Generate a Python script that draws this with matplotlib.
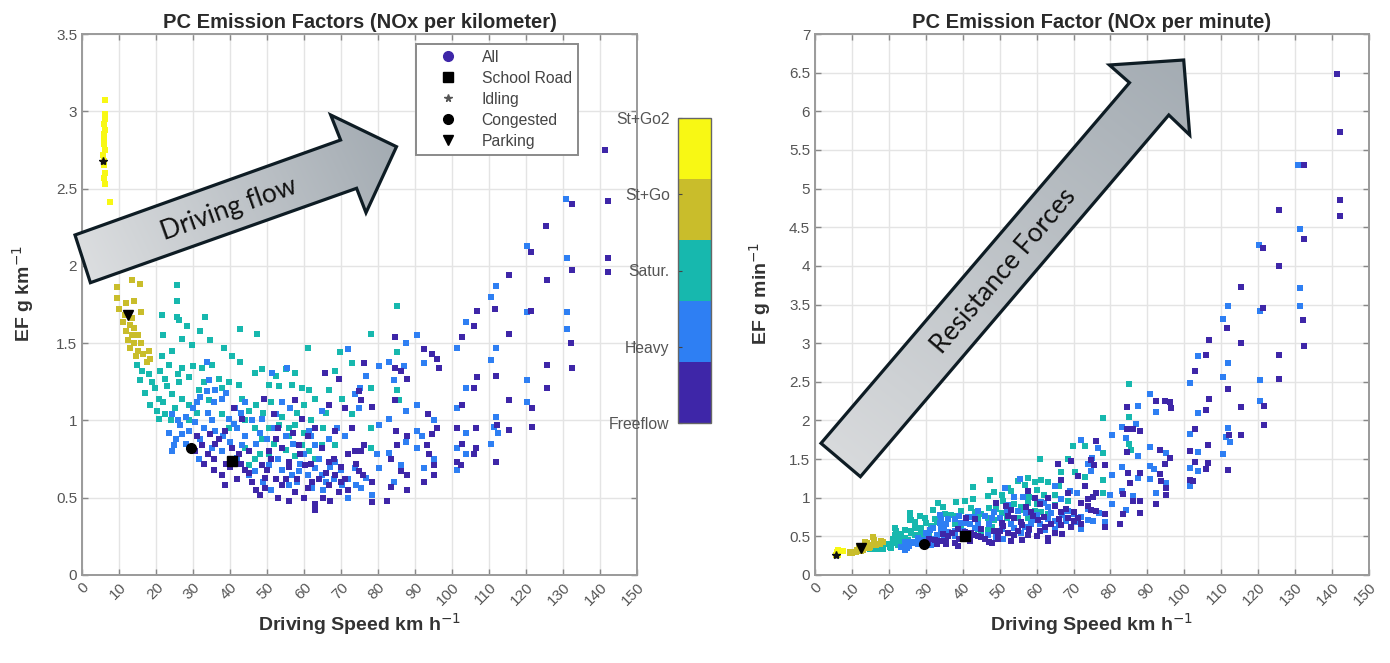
import numpy as np
import matplotlib
matplotlib.use("Agg")
import matplotlib.pyplot as plt
from matplotlib.colors import ListedColormap, Normalize, to_rgb
from matplotlib.cm import ScalarMappable
from matplotlib.lines import Line2D
from matplotlib.patches import Polygon

plt.rcParams['font.family'] = ['Liberation Sans', 'DejaVu Sans']

# ---------------- data (speed km/h, EF g/km) ----------------
stgo2_x = [6.2, 6.3, 6.2, 6.0, 6.1, 6.0, 5.9, 6.0, 6.1, 5.8, 5.9, 6.0, 6.1, 6.0, 6.2, 7.6]
stgo2_y = [3.07, 2.98, 2.95, 2.92, 2.88, 2.85, 2.82, 2.79, 2.75, 2.72, 2.68, 2.65, 2.60, 2.57, 2.53, 2.41]

stgo_x = [13.5, 15.8, 9.5, 9.5, 14, 12, 10, 16, 11.5, 13.5, 11, 13, 14, 12, 13.5, 15, 12.5, 14, 16, 13, 15, 18,
          18.5, 14.5, 17.5, 16.5]
stgo_y = [1.91, 1.88, 1.86, 1.79, 1.77, 1.76, 1.72, 1.70, 1.68, 1.66, 1.64, 1.62, 1.60, 1.58, 1.55, 1.55, 1.52,
          1.50, 1.50, 1.47, 1.45, 1.45, 1.40, 1.42, 1.38, 1.43]

satur_x = [25.7, 25.7, 21.6, 25.7, 33.3, 85, 26.1, 28.4, 32, 42.8, 47.3, 22, 27, 29.7, 34.7, 38.3, 40.5, 42.8, 61,
           69.8, 73, 14.9, 16.2, 15.8, 21.6, 24.3, 23.4, 27, 28.8, 22.5, 26.1, 19.8, 20.7, 24.3, 27, 28.8, 20.3,
           22.5, 20.7, 25.2, 31.5, 32.4, 35.1, 36.9, 34.2, 37.8, 39.6, 42.3, 43.2, 46.8, 48.6, 50.5, 52.3, 53.2,
           55, 56.8, 57.7, 59.5, 61.3, 63, 66.7, 68.5, 70.3, 73, 37.8, 39.6, 45, 46.8, 48.6, 50.5, 53.2, 55.9,
           57.7, 59.5, 61.3, 63, 64.9, 68.5, 45, 46.8, 55, 57.7, 50.5, 78, 85, 78, 85, 85.6, 78, 78,
           18, 19, 17, 23, 26, 30, 21, 18.5, 29, 31, 33, 24, 22,
           44, 47, 49, 51, 54, 56, 58, 60, 62, 65, 52, 48, 44, 60, 66]
satur_y = [1.875, 1.77, 1.68, 1.67, 1.67, 1.74, 1.65, 1.61, 1.58, 1.59, 1.56, 1.55, 1.53, 1.49, 1.52, 1.47, 1.42,
           1.38, 1.47, 1.44, 1.37, 1.36, 1.32, 1.26, 1.42, 1.45, 1.36, 1.34, 1.28, 1.27, 1.25, 1.21, 1.14, 1.17,
           1.14, 1.10, 1.06, 1.04, 1.01, 1.08, 1.20, 1.34, 1.36, 1.27, 1.13, 1.21, 1.25, 1.23, 1.14, 1.31, 1.33,
           1.23, 1.29, 1.22, 1.33, 1.23, 1.31, 1.21, 1.20, 1.14, 1.20, 1.32, 1.14, 1.04, 1.04, 0.95, 1.06, 0.95,
           0.88, 0.95, 0.97, 0.95, 0.97, 0.84, 0.80, 0.75, 0.84, 0.84, 0.71, 0.75, 0.81, 0.77, 0.78, 1.56, 1.44,
           1.21, 1.20, 1.13, 0.95, 0.82,
           1.30, 1.25, 1.18, 1.22, 1.30, 1.35, 1.32, 1.10, 1.00, 1.05, 1.25, 1.00, 1.12,
           1.00, 1.10, 1.05, 1.12, 1.02, 0.90, 1.05, 0.92, 1.00, 0.95, 0.85, 0.78, 0.82, 1.10, 1.05]

heavy_x = [33.8, 34.2, 33.8, 35.6, 31.1, 24.3, 26.6, 23.4, 24.8, 24.3, 27, 31.5, 30.6, 37.8, 39.6, 41.9, 43.2, 36,
           37.8, 45, 46.8, 50.5, 52.3, 54, 55.9, 57.7, 62.2, 63, 64.9, 68.5, 70.3, 72, 54, 56.3, 52.3, 51.4, 55.4,
           64.9, 72, 73.9, 74.8, 48.6, 44.1, 41.4, 61.3, 66.7, 63, 73.9, 58.6, 56.8,
           103.7, 131.2, 87.5, 90.6, 101.4, 111.8, 110.5, 92.4, 80.3, 83, 87, 76.7, 84.3, 120.4, 103.7, 75.1,
           120.4, 101.4, 90.6, 87.5, 83, 95.1, 111.8, 80.3, 111.4, 112.3, 103.7, 110.5, 101.4, 103.7, 90.6, 91.8,
           90.6, 95.1, 92.4, 87.5, 83, 80.3, 84.3, 75.3, 78.5, 101.4, 76.8, 79.8, 86.1,
           130.9, 120.2, 131.2, 111.8, 110.6, 120.4, 131.2,
           29, 32, 35, 38, 40, 42, 44, 47, 49, 51, 53, 58, 60, 62, 66, 67, 69, 71, 25.5, 28,
           26, 28, 30, 32, 34, 36, 39, 41, 43, 46, 48, 50, 52, 55, 57, 59, 61, 64, 65, 68, 70, 72, 74, 35, 33]
heavy_y = [1.38, 1.26, 1.19, 1.12, 1.12, 1.04, 0.97, 0.92, 0.84, 0.80, 0.91, 0.75, 0.99, 1.14, 1.01, 0.95, 0.84,
           0.93, 0.80, 0.65, 0.67, 0.71, 0.62, 0.68, 0.58, 0.54, 0.56, 0.69, 0.65, 0.73, 0.58, 0.50, 1.12, 1.08,
           1.04, 1.31, 1.34, 1.06, 1.46, 1.17, 1.08, 1.01, 1.12, 1.08, 0.93, 0.88, 0.84, 0.69, 0.67, 0.65,
           1.64, 1.59, 1.50, 1.55, 1.47, 1.47, 1.39, 1.37, 1.35, 1.38, 1.35, 1.29, 1.26, 1.26, 1.21, 1.21, 1.12,
           1.08, 1.10, 1.06, 1.01, 1.00, 1.02, 0.97, 0.96, 0.92, 0.92, 0.85, 0.82, 0.78, 0.93, 0.90, 0.82, 0.75,
           0.69, 0.86, 0.79, 0.69, 0.60, 0.56, 0.52, 0.68, 0.63, 0.78, 0.71,
           2.43, 2.13, 2.05, 1.87, 1.80, 1.70, 1.70,
           0.93, 0.88, 1.00, 0.90, 0.86, 0.76, 0.90, 0.85, 0.60, 0.55, 0.75, 0.60, 0.78, 0.90, 0.60, 0.70, 0.95,
           0.90, 0.88, 0.85,
           1.00, 1.02, 1.08, 1.15, 1.05, 1.20, 1.18, 0.98, 1.05, 1.00, 0.92, 0.88, 0.95, 0.90, 0.85, 0.72, 0.65,
           0.75, 0.55, 0.62, 0.68, 0.62, 0.58, 0.82, 0.95]

free_x = [41, 43.2, 38.7, 34.7, 32.4, 30.6, 35.6, 35.6, 37.8, 38.7, 40.5, 42.3, 49.1, 51.8, 57.7, 52.3, 50.5, 48.6,
          49.5, 49.5, 52.3, 54, 55.9, 58.6, 59.5, 63, 64.9, 66.7, 68.5, 63, 63, 62.2, 66.7, 69.4, 71.2, 65.8, 69.4,
          66.7, 71.2, 74.8, 73, 73.9, 74.8, 68.5, 60.4, 55, 57.7,
          106, 115.4, 84.5, 132.1, 102.8, 92.4, 94.7, 96, 96.5, 125.6, 132.5, 76.2, 84.5, 86.1, 87.9, 106.7, 111.8,
          125.6, 105.9, 75.5, 78.5, 84.5, 102.8, 115.4, 121.7, 93.5, 96, 94.7, 101.4, 106.4, 112.1, 115.4, 121.7,
          102.8, 106.4, 105.9, 101.4, 102.3, 111.8, 84.8, 87.9, 85.2, 76.2, 75.3, 83.4, 86.1, 87.9, 95.1, 95.1,
          92.4, 93.3, 93.8, 78.5, 82.5, 78.5, 87.9, 83.4,
          141.3, 142.2, 132.5, 125.5, 121.4, 115.4, 125.6, 132.3, 142.2, 142.2, 106.8, 111.6, 121.4,
          33, 36, 39, 44, 46, 47, 53, 56, 60, 61, 65, 67, 70, 72, 31, 45,
          34, 37, 40, 42, 43, 45, 48, 50, 51, 54, 56, 58, 59, 61, 62, 64, 66, 68, 70, 72, 74, 76, 57, 53]
free_y = [1.08, 1.01, 0.93, 0.91, 0.84, 0.80, 0.75, 0.68, 0.65, 0.58, 0.82, 0.78, 1.14, 1.04, 1.13, 0.88, 0.80,
          0.71, 0.63, 0.56, 0.62, 0.82, 0.73, 0.84, 1.01, 0.95, 0.82, 0.73, 0.65, 0.46, 0.42, 0.60, 0.58, 0.54,
          0.62, 1.31, 1.27, 1.10, 1.08, 1.19, 0.95, 0.80, 0.67, 0.93, 0.71, 0.62, 0.54,
          1.61, 1.56, 1.54, 1.50, 1.54, 1.46, 1.43, 1.40, 1.34, 1.36, 1.34, 1.37, 1.34, 1.32, 1.27, 1.28, 1.29,
          1.21, 1.21, 1.13, 1.09, 1.13, 1.10, 1.13, 1.08, 1.04, 0.95, 0.91, 0.95, 0.95, 0.97, 0.94, 0.96, 0.85,
          0.82, 0.78, 0.73, 0.71, 0.73, 0.93, 0.90, 0.84, 0.84, 0.80, 0.75, 0.67, 0.65, 0.71, 0.65, 0.60, 0.84,
          0.78, 0.60, 0.48, 0.47, 0.55, 0.57,
          2.75, 2.42, 2.40, 2.26, 2.09, 1.94, 1.91, 1.97, 2.05, 1.96, 1.71, 1.72, 1.71,
          0.72, 0.85, 0.72, 0.68, 0.60, 0.55, 0.50, 0.48, 0.50, 0.56, 0.50, 0.48, 0.70, 0.78, 0.90, 0.80,
          0.78, 0.88, 0.70, 0.62, 0.72, 0.66, 0.52, 0.68, 0.75, 0.58, 0.70, 0.62, 0.78, 0.90, 0.72, 0.62, 0.66,
          0.75, 0.60, 0.55, 0.72, 0.65, 0.92, 0.95]

# special cases (speed, EF g/km)
idling_pt = (5.8, 2.68)
parking_pt = (12.4, 1.68)
congested_pt = (29.5, 0.82)
school_pt = (40.5, 0.74)

class_labels = ['Freeflow', 'Heavy', 'Satur.', 'St+Go', 'St+Go2']
class_colors = ['#3e26a8', '#2e7ff3', '#17b8ae', '#c9bd2b', '#f8f814']
legend_labels = ['All', 'School Road', 'Idling', 'Congested', 'Parking']

series = [(satur_x, satur_y, 2), (heavy_x, heavy_y, 1), (free_x, free_y, 0),
          (stgo_x, stgo_y, 3), (stgo2_x, stgo2_y, 4)]

# ---------------- figure ----------------
fig = plt.figure(figsize=(13.9, 6.63), dpi=100)
axL = fig.add_axes([82/1390, 88/663, 555/1390, 541/663])
axR = fig.add_axes([815/1390, 88/663, 554/1390, 541/663])

tick_col = '#555555'
lab_col = '#333333'
def style(ax, ymax, yticks):
    ax.set_xlim(0, 150)
    ax.set_ylim(0, ymax)
    ax.set_xticks(np.arange(0, 151, 10))
    ax.set_yticks(yticks)
    ax.set_yticklabels([('%g' % v) for v in yticks])
    ax.grid(True, color='#e4e4e4', lw=1.0)
    ax.set_axisbelow(True)
    for s in ax.spines.values():
        s.set_color('#9a9a9a'); s.set_linewidth(1.4)
    ax.tick_params(direction='in', length=4, width=1, color='#888888', top=True, right=True,
                   labelsize=11, labelcolor=tick_col)
    for lab in ax.get_xticklabels():
        lab.set_rotation(45); lab.set_ha('right'); lab.set_va('top'); lab.set_rotation_mode('anchor')
    ax.set_xlabel('Driving Speed km h$^{-1}$', fontsize=14, fontweight='bold', color=lab_col)
    ax.xaxis.set_label_coords(0.5, -0.066)

style(axL, 3.5, np.arange(0, 3.51, 0.5))
style(axR, 7, np.arange(0, 7.01, 0.5))

msz = 18
for xs, ys, ci in series:
    xs = np.array(xs); ys = np.array(ys)
    axL.scatter(xs, ys, s=msz, marker='s', color=class_colors[ci], lw=0, zorder=3)
    axR.scatter(xs, ys * xs / 60.0, s=msz, marker='s', color=class_colors[ci], lw=0, zorder=3)

for ax, conv in ((axL, lambda x, y: y), (axR, lambda x, y: y * x / 60.0)):
    ax.plot(idling_pt[0], conv(*idling_pt), marker='*', color='#111111', ms=6, zorder=5)
    ax.plot(parking_pt[0], conv(*parking_pt), marker='v', color='black', ms=7, zorder=5)
    ax.plot(congested_pt[0], conv(*congested_pt), marker='o', color='black', ms=7, zorder=5)
    ax.plot(school_pt[0], conv(*school_pt), marker='s', color='black', ms=6.5, zorder=5)

axL.set_title('PC Emission Factors (NOx per kilometer)', fontsize=14.5, fontweight='bold', color='#2a2a2a', pad=4)
axR.set_title('PC Emission Factor (NOx per minute)', fontsize=14.5, fontweight='bold', color='#2a2a2a', pad=4)
axL.set_ylabel('EF g km$^{-1}$', fontsize=14, fontweight='bold', color=lab_col)
axR.set_ylabel('EF g min$^{-1}$', fontsize=14, fontweight='bold', color=lab_col)
axL.yaxis.set_label_coords(-0.082, 0.52)
axR.yaxis.set_label_coords(-0.075, 0.52)

# legend
handles = [Line2D([], [], ls='none', marker='o', color=class_colors[0], ms=7),
           Line2D([], [], ls='none', marker='s', color='black', ms=6.5),
           Line2D([], [], ls='none', marker='*', color='#555555', ms=5.5),
           Line2D([], [], ls='none', marker='o', color='black', ms=7),
           Line2D([], [], ls='none', marker='v', color='black', ms=7)]
leg = axL.legend(handles, legend_labels, loc='upper left', bbox_to_anchor=(0.602, 0.982), borderaxespad=0,
                 fancybox=False, framealpha=1, edgecolor='#8a8a8a', fontsize=11.3, labelspacing=0.38,
                 handlelength=3.3, handletextpad=0.5, borderpad=0.38)
leg.get_frame().set_linewidth(1.4)
for t in leg.get_texts():
    t.set_color('#444444')

# colorbar
cmap = ListedColormap(class_colors)
cax = fig.add_axes([678/1390, (663-423)/663, 33/1390, 305/663])
cb = fig.colorbar(ScalarMappable(norm=Normalize(1, 5), cmap=cmap), cax=cax, ticks=[1, 2, 3, 4, 5])
cb.ax.set_yticklabels(class_labels)
cb.ax.yaxis.set_ticks_position('left')
cb.ax.yaxis.set_label_position('left')
cb.ax.tick_params(labelsize=11.3, labelcolor=tick_col, length=3, color='#444444', direction='in', pad=6)
cb.outline.set_edgecolor('#666666')
cb.outline.set_linewidth(1.0)

# ---------------- annotation arrows ----------------
ov = fig.add_axes([0, 0, 1, 1], zorder=10)
ov.axis('off')

def grad_arrow(pts, start, end, light, dark):
    pts = np.array(pts, dtype=float)
    poly = Polygon(pts, closed=True, fc='none', ec='#0e1c24', lw=2.3, joinstyle='miter', zorder=3)
    ov.add_patch(poly)
    x0, y0 = pts.min(0); x1, y1 = pts.max(0)
    X, Y = np.meshgrid(np.linspace(x0, x1, 240), np.linspace(y0, y1, 240))
    d = np.array(end) - np.array(start)
    t = ((X - start[0]) * d[0] + (Y - start[1]) * d[1]) / (d @ d)
    t = np.clip(t, 0, 1)[..., None]
    rgb = np.array(to_rgb(light)) * (1 - t) + np.array(to_rgb(dark)) * t
    im = ov.imshow(rgb, extent=(x0, x1, y1, y0), origin='upper', aspect='auto', zorder=2,
                   interpolation='bilinear')
    im.set_clip_path(poly)

left_arrow = [(75, 235), (340.6, 140), (330.7, 115), (396.5, 146.7), (366, 212.7), (356.6, 188.3), (90.4, 282.7)]
grad_arrow(left_arrow, (90, 283), (396, 140), '#dcdee0', '#a3abb2')
right_arrow = [(821, 443.3), (1129.5, 82.7), (1109.4, 65), (1183.7, 60), (1189.7, 135), (1168.8, 115),
               (860.4, 476.7)]
grad_arrow(right_arrow, (860, 477), (1185, 60), '#d8dadc', '#a4acb3')

ov.set_xlim(0, 1390)
ov.set_ylim(663, 0)
ov.text(229, 209, 'Driving flow', rotation=19.6, rotation_mode='anchor', ha='center', va='center',
        fontsize=19, family=['Lato', 'DejaVu Sans'], color='#111111', zorder=4)
ov.text(1004, 271, 'Resistance Forces', rotation=49.5, rotation_mode='anchor', ha='center', va='center',
        fontsize=19, family=['Lato', 'DejaVu Sans'], color='#111111', zorder=4)

fig.savefig('out.png', dpi=100, facecolor='white')
